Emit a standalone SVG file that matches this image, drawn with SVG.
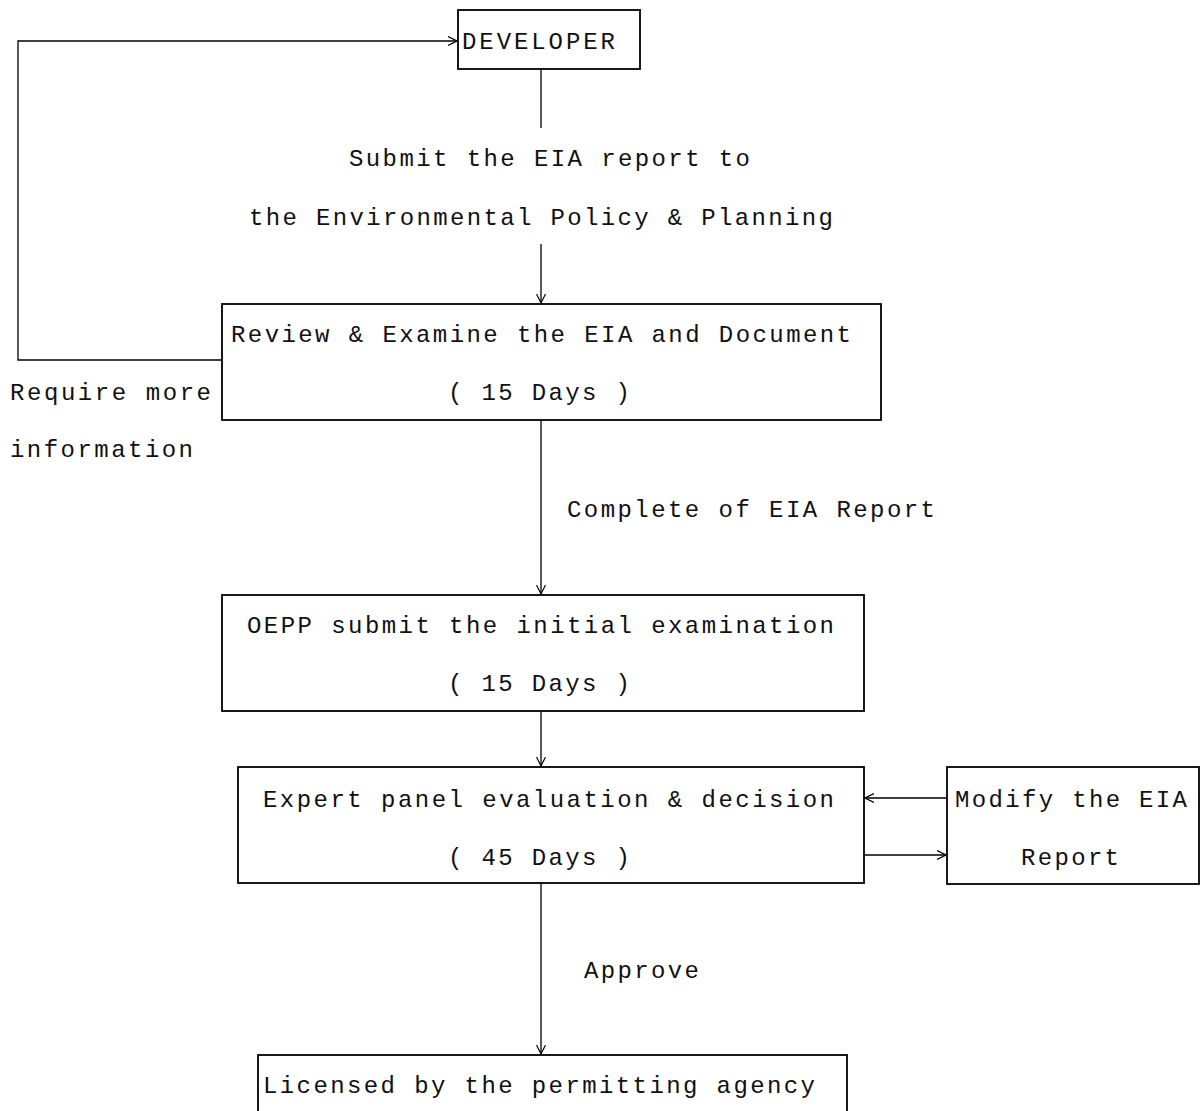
<svg xmlns="http://www.w3.org/2000/svg" width="1200" height="1111" viewBox="0 0 1200 1111">
<style>
.box{fill:#fff;stroke:#000;stroke-width:1.8}
.t{font-family:"Liberation Mono","DejaVu Sans Mono",monospace;font-size:24px;fill:#111}
.c{fill:none;stroke:#000;stroke-width:1.3}
</style>
<defs>
<marker id="arr" viewBox="0 0 10 10" refX="10" refY="5" markerWidth="9" markerHeight="10" markerUnits="userSpaceOnUse" orient="auto">
<path d="M0,0 L10,5 L0,10" fill="none" stroke="#000" stroke-width="1.3"/>
</marker>
</defs>
<rect width="1200" height="1111" fill="#fff"/>
<g id="connectors">
<line class="c" x1="541" y1="69" x2="541" y2="128"/>
<line class="c" x1="541" y1="244" x2="541" y2="303" marker-end="url(#arr)"/>
<polyline class="c" points="222,360 18,360 18,41 457,41" marker-end="url(#arr)"/>
<line class="c" x1="541" y1="420" x2="541" y2="594" marker-end="url(#arr)"/>
<line class="c" x1="541" y1="711" x2="541" y2="766" marker-end="url(#arr)"/>
<line class="c" x1="947" y1="798" x2="865" y2="798" marker-end="url(#arr)"/>
<line class="c" x1="864" y1="855" x2="946" y2="855" marker-end="url(#arr)"/>
<line class="c" x1="541" y1="883" x2="541" y2="1054" marker-end="url(#arr)"/>
<text class="t" x="349" y="166" textLength="401">Submit the EIA report to</text>
<text class="t" x="249" y="225" textLength="584">the Environmental Policy &amp; Planning</text>
<text class="t" x="10" y="400" textLength="201">Require more</text>
<text class="t" x="10" y="457" textLength="183">information</text>
<text class="t" x="567" y="517" textLength="368">Complete of EIA Report</text>
<text class="t" x="584" y="978" textLength="115">Approve</text>
</g>
<g id="developer">
<rect class="box" x="458" y="10" width="182" height="59"/>
<text class="t" x="462" y="49" textLength="153">DEVELOPER</text>
</g>
<g id="review">
<rect class="box" x="222" y="304" width="659" height="116"/>
<text class="t" x="231" y="342" textLength="620">Review &amp; Examine the EIA and Document</text>
<text class="t" x="448" y="400" textLength="182">( 15 Days )</text>
</g>
<g id="oepp">
<rect class="box" x="222" y="595" width="642" height="116"/>
<text class="t" x="247" y="633" textLength="587">OEPP submit the initial examination</text>
<text class="t" x="448" y="691" textLength="182">( 15 Days )</text>
</g>
<g id="expert">
<rect class="box" x="238" y="767" width="626" height="116"/>
<text class="t" x="263" y="807" textLength="571">Expert panel evaluation &amp; decision</text>
<text class="t" x="448" y="865" textLength="182">( 45 Days )</text>
</g>
<g id="modify">
<rect class="box" x="947" y="767" width="252" height="117"/>
<text class="t" x="955" y="807" textLength="232">Modify the EIA</text>
<text class="t" x="1021" y="865" textLength="98">Report</text>
</g>
<g id="licensed">
<rect class="box" x="258" y="1055" width="589" height="70"/>
<text class="t" x="263" y="1093" textLength="552">Licensed by the permitting agency</text>
</g>
</svg>
